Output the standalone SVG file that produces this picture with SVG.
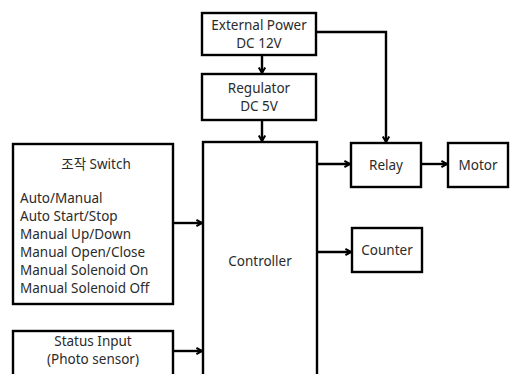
<svg xmlns="http://www.w3.org/2000/svg" width="513" height="374" viewBox="0 0 513 374">
<style>
.box{fill:#fff;stroke:#000;stroke-width:2.4}
.t{font-family:"Noto Sans","Open Sans","Noto Sans CJK KR",sans-serif;font-size:13.5px;fill:#2b2b2b}
.c{text-anchor:middle}
.ln{fill:none;stroke:#000;stroke-width:2.4}
</style>
<defs>
<marker id="ah" viewBox="0 0 10 10" refX="9" refY="5" markerWidth="8" markerHeight="8" markerUnits="userSpaceOnUse" orient="auto" overflow="visible">
<path d="M2,1 L9,5 L2,9" fill="none" stroke="#000" stroke-width="2.6"/>
</marker>
</defs>
<rect width="513" height="374" fill="#fff"/>
<g id="connectors">
<line class="ln" x1="262" y1="55" x2="262" y2="73" marker-end="url(#ah)"/>
<line class="ln" x1="262" y1="120" x2="262" y2="141" marker-end="url(#ah)"/>
<polyline class="ln" points="316,32 386,32 386,142" marker-end="url(#ah)"/>
<line class="ln" x1="317" y1="164" x2="350" y2="164" marker-end="url(#ah)"/>
<line class="ln" x1="421" y1="164" x2="447" y2="164" marker-end="url(#ah)"/>
<line class="ln" x1="317" y1="252" x2="351" y2="252" marker-end="url(#ah)"/>
<line class="ln" x1="173" y1="223" x2="202" y2="223" marker-end="url(#ah)"/>
<line class="ln" x1="173" y1="351" x2="202" y2="351" marker-end="url(#ah)"/>
</g>
<g id="external-power">
<rect class="box" x="202" y="13" width="114" height="42"/>
<text class="t c" x="259" y="30">External Power</text>
<text class="t c" x="259" y="48">DC 12V</text>
</g>
<g id="regulator">
<rect class="box" x="202" y="74" width="114" height="46"/>
<text class="t c" x="259" y="93">Regulator</text>
<text class="t c" x="259" y="111">DC 5V</text>
</g>
<g id="controller">
<rect class="box" x="203" y="142" width="114" height="240"/>
<text class="t c" x="260" y="266">Controller</text>
</g>
<g id="relay">
<rect class="box" x="351" y="143" width="70" height="44"/>
<text class="t c" x="386" y="170">Relay</text>
</g>
<g id="motor">
<rect class="box" x="448" y="143" width="60" height="44"/>
<text class="t c" x="478" y="170">Motor</text>
</g>
<g id="counter">
<rect class="box" x="352" y="228" width="70" height="44"/>
<text class="t c" x="387" y="255">Counter</text>
</g>
<g id="switch">
<rect class="box" x="13" y="144" width="160" height="160"/>
<text class="t c" x="96" y="169">조작 Switch</text>
<text class="t" x="20" y="203">Auto/Manual</text>
<text class="t" x="20" y="221">Auto Start/Stop</text>
<text class="t" x="20" y="239">Manual Up/Down</text>
<text class="t" x="20" y="257">Manual Open/Close</text>
<text class="t" x="20" y="275">Manual Solenoid On</text>
<text class="t" x="20" y="293">Manual Solenoid Off</text>
</g>
<g id="status-input">
<rect class="box" x="13" y="331" width="160" height="50"/>
<text class="t c" x="93" y="346">Status Input</text>
<text class="t c" x="93" y="364">(Photo sensor)</text>
</g>
</svg>
